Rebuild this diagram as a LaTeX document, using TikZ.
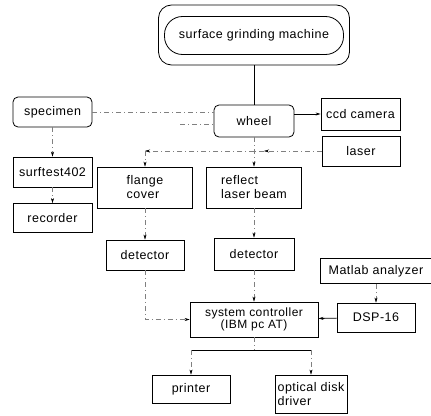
\documentclass[tikz,border=0pt]{standalone}
\usepackage{fontspec}
\setmainfont[LetterSpace=4]{Liberation Sans}
\usetikzlibrary{arrows.meta}

\tikzset{
  blok/.style={draw, thick, minimum width=#1, inner sep=1pt, font=\fontsize{12.5}{14}\selectfont},
  blok/.default=79pt,
  roundblok/.style={blok=#1, rounded corners=5pt},
  roundblok/.default=79pt,
  link/.style={thick},
  faint/.style={gray, thin, dash pattern=on 5pt off 3pt on 1pt off 3pt},
  tip/.style={-{Stealth[length=5pt,width=3pt,color=black]}}
}

\begin{document}
\begin{tikzpicture}[x=1pt, y=-1pt]
  \useasboundingbox (0,0) rectangle (431,415);

  % Macchina e mola
  \node[draw, thick, rounded corners=13pt, minimum width=191pt, minimum height=60pt] (frame) at (254,35) {};
  \node[roundblok=179pt, rounded corners=18pt, minimum height=38pt] (machine) at (254,35.5) {surface grinding machine};
  \node[roundblok=80pt, minimum height=32pt] (wheel) at (254,121) {wheel};
  \node[blok=79pt, minimum height=32pt] (ccd) at (360.5,114) {ccd camera};
  \node[blok=78pt, minimum height=30pt] (laser) at (361,151) {laser};

  % Colonna sinistra
  \node[roundblok, minimum height=30pt] (specimen) at (52.5,112) {specimen};
  \node[blok, minimum height=30pt] (surftest) at (52.5,172) {surftest402};
  \node[blok, minimum height=29pt] (recorder) at (52.5,218) {recorder};

  % Laser e rivelatori
  \node[blok=95pt, minimum height=41pt, align=left] (flange) at (145,187.5) {flange\\cover};
  \node[blok=95pt, minimum height=41pt, align=left] (reflect) at (254,187.5) {reflect\\laser beam};
  \node[blok=78pt, minimum height=30pt] (detL) at (145,255) {detector};
  \node[blok=80pt, minimum height=32pt] (detR) at (254,254) {detector};

  % Controllo
  \node[blok=112pt, minimum height=25pt] (matlab) at (376,271) {Matlab analyzer};
  \node[blok=78pt, minimum height=29pt] (dsp) at (376,317.5) {DSP-16};
  \node[blok=128pt, minimum height=35pt, align=center, font=\fontsize{12}{11}\selectfont] (sys) at (254,319.5) {system controller\\(IBM pc AT)};
  \node[blok=78pt, minimum height=28pt] (printer) at (191,389) {printer};
  \node[blok=72pt, minimum height=38pt, align=left] (optical) at (311,394) {optical disk\\driver};

  \coordinate (split) at (reflect |- laser);
  \coordinate (beam) at ([xshift=10pt]split);
  \coordinate (turn) at (flange |- laser);
  \coordinate (stub) at (180,124);
  \coordinate (busL) at (191,350);
  \coordinate (busR) at (311,350);
  \coordinate (busM) at (254,350);

  % Connessioni
  \draw[link] (frame) -- (wheel);
  \draw[link, tip] (wheel.east |- ccd) -- (ccd.west);
  \draw[faint] (specimen.east) -- (specimen.east -| wheel.west);
  \draw[faint] (stub) -- (stub -| wheel.west);
  \draw[faint, tip] (laser.west) -- (beam);
  \draw[faint] (beam) -- (split);
  \draw[faint, tip] (split) -- (turn);
  \draw[faint, tip] (turn) -- (flange.north);
  \draw[faint, tip] (wheel) -- (reflect);
  \draw[faint, tip] (specimen) -- (surftest);
  \draw[faint, tip] (surftest) -- (recorder);
  \draw[faint, tip] (flange) -- (detL);
  \draw[faint, tip] (reflect) -- (detR);
  \draw[faint, tip] (detR) -- (sys);
  \draw[faint, tip] (detL.south) |- (sys.west);
  \draw[faint, tip] (matlab) -- (dsp);
  \draw[link, tip] (dsp) -- (sys);
  \draw[faint] (sys) -- (busM);
  \draw[link] (busL) -- (busR);
  \draw[faint, tip] (busL) -- (printer);
  \draw[faint, tip] (busR) -- (optical);
\end{tikzpicture}
\end{document}
